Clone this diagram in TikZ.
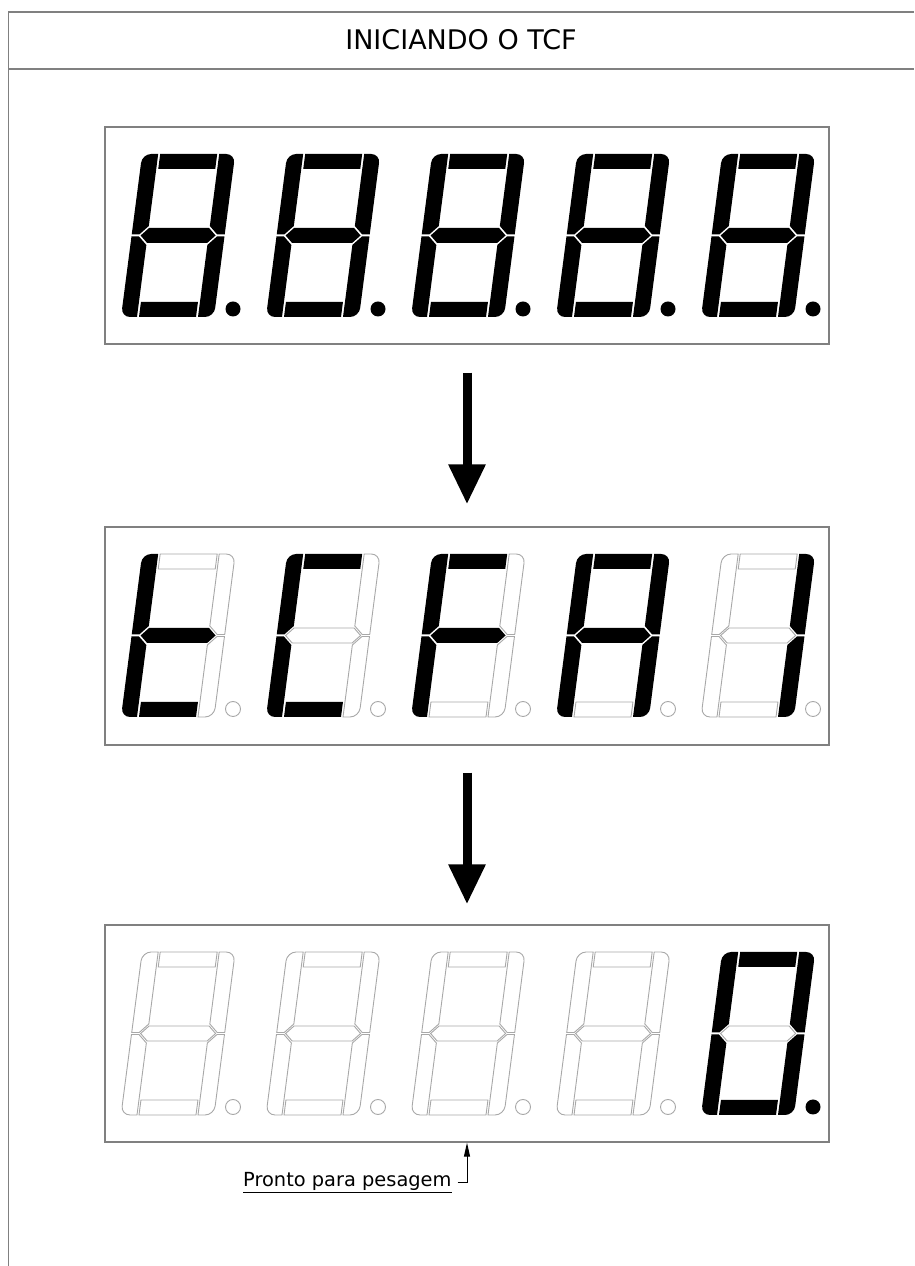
\documentclass[tikz,border=0pt]{standalone}
\usepackage{fontspec}
\setmainfont{DejaVu Sans}
\usetikzlibrary{arrows.meta}
\makeatletter
\newcommand\segpart[3]{\in@{#1}{#2}\ifin@\def\segst{lit}\else\def\segst{unlit}\fi\expandafter\path\expandafter[\segst] #3;}
\makeatother
\newcommand\sdigit[3]{%
  \begin{scope}[shift={(#1,#2)}]
    \begin{scope}[xslant=0.13]
      \segpart{a}{#3}{(18,148) rectangle (75,163)}
      \segpart{b}{#3}{(93,82.5) -- (93,154) arc[start angle=0,end angle=90,radius=9] -- (77,163) -- (77,91) -- (85.5,82.5) -- cycle}
      \segpart{c}{#3}{(93,80.5) -- (93,9) arc[start angle=0,end angle=-90,radius=9] -- (77,0) -- (77,72) -- (85.5,80.5) -- cycle}
      \segpart{d}{#3}{(18,0) rectangle (75,15)}
      \segpart{e}{#3}{(0,80.5) -- (0,9) arc[start angle=180,end angle=270,radius=9] -- (16,0) -- (16,72) -- (7.5,80.5) -- cycle}
      \segpart{f}{#3}{(0,82.5) -- (0,154) arc[start angle=180,end angle=90,radius=9] -- (16,163) -- (16,91) -- (7.5,82.5) -- cycle}
      \segpart{g}{#3}{(9,81.5) -- (16.5,89) -- (76.5,89) -- (84,81.5) -- (76.5,74) -- (16.5,74) -- cycle}
    \end{scope}
    \segpart{p}{#3}{(112,8) circle[radius=7.5]}
  \end{scope}}
\definecolor{framegray}{HTML}{808080}
\definecolor{offgray}{HTML}{A8A8A8}
\begin{document}
\begin{tikzpicture}[x=1pt,y=1pt,
  lit/.style={fill=black,draw=none},
  unlit/.style={draw=offgray,line width=0.9pt,fill=none},
  frameline/.style={draw=framegray,line width=1.5pt},
  dispbox/.style={rectangle,draw=framegray,line width=1.3pt,minimum width=724pt,minimum height=217pt,inner sep=0pt},
  bigarrow/.style={line width=9pt,-{Triangle[length=40pt,width=35pt]}},
  leader/.style={line width=1pt,-{Triangle[length=14pt,width=6pt]}}]
\useasboundingbox (0,0) rectangle (914,1266);
\fill[white] (0,0) rectangle (914,1266);
% frame
\draw[frameline] (8.5,0) -- (8.5,1254) -- (914,1254);
\draw[frameline] (8.5,1197) -- (914,1197);
\node[anchor=base,font=\fontsize{27}{32}\selectfont,inner sep=0pt] (title) at (461,1216) {INICIANDO O TCF};
% boxes
\node[dispbox] (box1) at (467,1030.5) {};
\node[dispbox,minimum height=218pt] (box2) at (467,630) {};
\node[dispbox] (box3) at (467,232.5) {};
% display 1
\sdigit{121}{949}{abcdefgp}
\sdigit{266}{949}{abcdefgp}
\sdigit{411}{949}{abcdefgp}
\sdigit{556}{949}{abcdefgp}
\sdigit{701}{949}{abcdefgp}
% display 2
\sdigit{121}{549}{defg}
\sdigit{266}{549}{adef}
\sdigit{411}{549}{aefg}
\sdigit{556}{549}{abcefg}
\sdigit{701}{549}{bc}
% display 3
\sdigit{121}{151}{x}
\sdigit{266}{151}{x}
\sdigit{411}{151}{x}
\sdigit{556}{151}{x}
\sdigit{701}{151}{abcdefp}
% arrows
\draw[bigarrow,shorten <=28pt,shorten >=22pt] (box1.south) -- (box2.north);
\draw[bigarrow,shorten <=27pt,shorten >=20pt] (box2.south) -- (box3.north);
% label
\node[anchor=base west,font=\fontsize{19.4}{23}\selectfont,inner sep=0pt] (lbl) at (243,79) {\underline{Pronto para pesagem}};
\draw[leader] ([shift={(6pt,4pt)}]lbl.base east) -| (box3.south);
\end{tikzpicture}
\end{document}
